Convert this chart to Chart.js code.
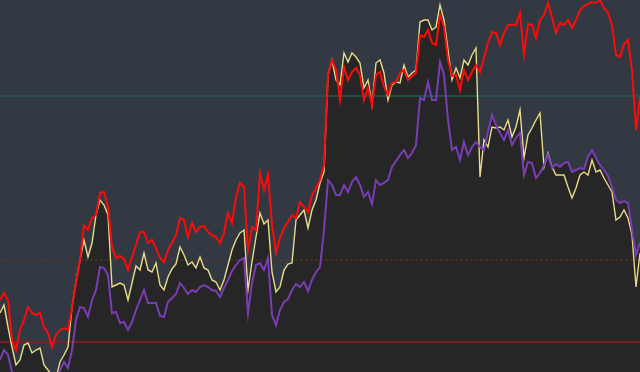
<!DOCTYPE html>
<html>
<head>
<meta charset="utf-8">
<script src="https://cdn.jsdelivr.net/npm/chart.js@4/dist/chart.umd.min.js"></script>
<style>
    html, body { margin: 0; padding: 0; background: #323943; }
    #wrap { width: 640px; height: 372px; }
</style>
</head>
<body>
<div id="wrap"><canvas id="grafico" width="640" height="372"></canvas></div>
<script>
// Series (un punto cada 4 px)
const serieRoja = [72, 79, 72, 32, 22, 42, 52, 65, 59, 57, 59, 45, 39, 25, 37, 42, 44, 42, 65, 89,
    112, 147, 142, 154, 157, 179, 180, 165, 125, 114, 116, 113, 102, 115, 127, 140, 140, 129, 132, 124,
    114, 110, 122, 129, 137, 154, 152, 135, 149, 140, 145, 146, 140, 137, 135, 129, 139, 159, 149, 175,
    189, 185, 122, 145, 142, 199, 182, 197, 147, 119, 134, 144, 150, 157, 154, 170, 165, 160, 177, 184,
    192, 207, 297, 312, 302, 272, 305, 292, 300, 304, 297, 272, 284, 267, 297, 300, 285, 277, 289, 290,
    299, 302, 292, 296, 299, 337, 335, 342, 329, 327, 357, 345, 312, 296, 297, 282, 302, 292, 300, 307,
    300, 314, 329, 340, 339, 327, 339, 347, 347, 347, 359, 317, 348, 347, 334, 352, 357, 369, 355, 339,
    349, 347, 352, 344, 352, 362, 366, 368, 370, 369, 372, 364, 359, 347, 317, 315, 328, 332, 302, 242,
    275];

const serieAmarilla = [59, 67, 45, 25, 7, 12, 27, 29, 19, 22, 24, 7, 2, -3, -6, 10, 17, 25, 65, 90,
    112, 132, 115, 129, 157, 172, 167, 157, 85, 87, 89, 87, 72, 89, 106, 102, 119, 102, 100, 109,
    87, 82, 95, 103, 108, 125, 117, 107, 110, 104, 115, 104, 102, 92, 90, 82, 92, 107, 122, 132,
    139, 142, 82, 110, 135, 159, 148, 152, 100, 80, 85, 102, 108, 109, 152, 157, 162, 144, 162, 172,
    189, 200, 297, 312, 292, 287, 319, 310, 319, 315, 309, 284, 292, 267, 309, 312, 299, 272, 287, 290,
    289, 307, 295, 299, 302, 350, 352, 352, 342, 345, 367, 352, 322, 292, 304, 294, 312, 307, 317, 324,
    195, 232, 225, 245, 244, 245, 242, 252, 235, 245, 262, 214, 237, 244, 252, 259, 205, 219, 205, 197,
    197, 197, 185, 174, 184, 197, 200, 197, 212, 200, 202, 194, 187, 180, 152, 155, 162, 154, 137, 85,
    119];

const serieMorada = [12, 22, 17, 0, -8, -13, -13, -13, -13, -13, -13, -13, -13, -13, -13, 2, 10, 4, 22, 52,
    65, 64, 55, 72, 82, 105, 104, 97, 59, 60, 49, 50, 42, 50, 62, 72, 82, 69, 69, 69,
    56, 55, 70, 74, 78, 89, 84, 78, 82, 80, 85, 87, 85, 82, 81, 75, 84, 92, 101, 107,
    112, 114, 59, 89, 107, 109, 102, 114, 57, 47, 62, 70, 73, 82, 88, 85, 90, 81, 92, 100,
    105, 142, 192, 187, 177, 177, 187, 180, 190, 195, 187, 175, 180, 168, 192, 187, 189, 192, 205, 211,
    217, 222, 214, 219, 227, 274, 272, 290, 272, 272, 310, 297, 252, 222, 225, 212, 230, 217, 225, 230,
    225, 222, 240, 257, 247, 239, 232, 242, 227, 234, 239, 197, 210, 209, 194, 199, 207, 217, 204, 208,
    205, 209, 210, 200, 202, 204, 203, 215, 222, 214, 207, 202, 196, 185, 172, 169, 171, 169, 142, 117,
    129];

// Niveles horizontales de referencia
const nivelVerde = 276;
const nivelMarron = 112;
const nivelRojo = 30;

const etiquetas = serieRoja.map((_, i) => i);

function lineaNivel(valor, color, dash) {
    return {
        data: etiquetas.map(() => valor),
        borderColor: color,
        borderWidth: 1.5,
        borderDash: dash,
        pointRadius: 0,
        fill: false,
        order: 4
    };
}

document.addEventListener('DOMContentLoaded', function () {
    const ctx = document.getElementById('grafico').getContext('2d');

    new Chart(ctx, {
        type: 'line',
        data: {
            labels: etiquetas,
            datasets: [
                lineaNivel(nivelVerde, '#1f5e4c', []),
                lineaNivel(nivelMarron, 'rgba(88, 56, 36, 0.75)', [3, 2]),
                lineaNivel(nivelRojo, '#8f1c1c', []),
                {
                    data: serieAmarilla,
                    borderColor: '#e9dc88',
                    backgroundColor: '#262626',
                    borderWidth: 1.4,
                    pointRadius: 0,
                    fill: 'start',
                    order: 3
                },
                {
                    data: serieRoja,
                    borderColor: '#ff0a0a',
                    borderWidth: 2,
                    pointRadius: 0,
                    fill: false,
                    order: 2
                },
                {
                    data: serieMorada,
                    borderColor: '#7a3db4',
                    backgroundColor: '#262626',
                    borderWidth: 2,
                    pointRadius: 0,
                    fill: 'start',
                    order: 1
                }
            ]
        },
        options: {
            responsive: false,
            animation: false,
            layout: { padding: 0 },
            plugins: {
                legend: { display: false },
                tooltip: { enabled: false },
                filler: { drawTime: 'beforeDatasetsDraw' }
            },
            scales: {
                x: { display: false, offset: false },
                y: { display: false, min: 0, max: 372 }
            }
        }
    });
});
</script>
</body>
</html>
